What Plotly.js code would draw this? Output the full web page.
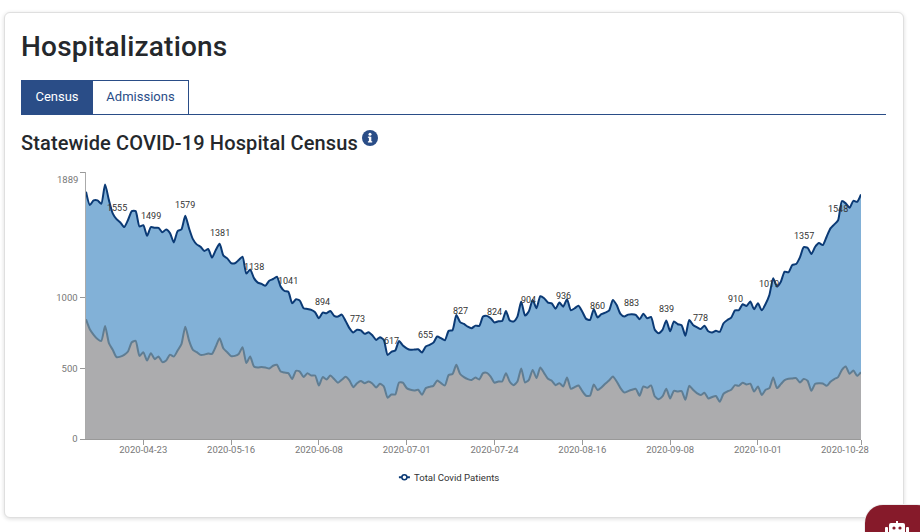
<!DOCTYPE html>
<html>
<head>
<meta charset="utf-8">
<script src="https://cdn.plot.ly/plotly-3.0.1.min.js"></script>
<style>
html,body{margin:0;padding:0;background:#fff;width:920px;height:532px;overflow:hidden;font-family:Roboto,sans-serif;}
#card{position:absolute;left:4px;top:12px;width:898px;height:504px;border:1px solid #dfdfdf;border-radius:6px;box-shadow:0 1px 4px rgba(0,0,0,.14);background:#fff;}
#h1{position:absolute;left:21px;top:29px;font-size:28px;font-weight:500;line-height:36px;color:#25282c;letter-spacing:.2px;}
#tabs{position:absolute;left:21px;top:80px;height:34px;display:flex;}
.tab{box-sizing:border-box;height:35px;line-height:32px;font-size:13px;text-align:center;border:1px solid #2a4d87;}
#t1{width:72px;background:#2a4d87;color:#fff;}
#t2{width:96px;margin-left:0;border-left:none;background:#fff;color:#2a4d87;}
#rule{position:absolute;left:21px;top:114px;width:865px;height:1px;background:#2a4d87;}
#h2{position:absolute;left:21px;top:130px;font-size:20px;font-weight:500;line-height:26px;color:#25282c;letter-spacing:.12px;}
#info{position:absolute;left:362px;top:130px;width:16px;height:16px;}
#chart{position:absolute;left:0;top:0;width:920px;height:532px;}
#bot{position:absolute;left:865px;top:505px;width:70px;height:50px;background:#861a2a;border-radius:18px;box-shadow:0 0 0 1px #eee;}
#botsvg{position:absolute;left:885px;top:521px;width:24px;height:14px;}
</style>
</head>
<body>
<div id="card"></div>
<div id="h1">Hospitalizations</div>
<div id="tabs"><div class="tab" id="t1">Census</div><div class="tab" id="t2">Admissions</div></div>
<div id="rule"></div>
<div id="h2">Statewide COVID-19 Hospital Census</div>
<svg id="info" viewBox="0 0 16 16"><circle cx="8" cy="8" r="8" fill="#2a4d87"/><rect x="6.9" y="6.8" width="2.4" height="5.2" fill="#fff"/><rect x="5.9" y="11.2" width="4.3" height="1.3" fill="#fff"/><rect x="5.9" y="6.6" width="2.5" height="1.2" fill="#fff"/><circle cx="8" cy="4.2" r="1.5" fill="#fff"/></svg>
<div id="chart"></div>
<div id="bot"></div>
<svg id="botsvg" viewBox="0 0 24 14"><rect x="11" y="0" width="2" height="3" fill="#fff"/><rect x="4" y="2" width="16" height="12" rx="2" fill="#fff"/><rect x="0" y="6" width="3" height="8" rx="1" fill="#fff"/><rect x="21" y="6" width="3" height="8" rx="1" fill="#fff"/><circle cx="9" cy="7" r="1.6" fill="#861a2a"/><circle cx="15" cy="7" r="1.6" fill="#861a2a"/></svg>
<script>
var startDate = "2020-04-08";
var totalCovid = [1749,1655,1688,1688,1664,1801,1690,1596,1555,1532,1499,1549,1612,1612,1504,1513,1438,1499,1494,1494,1462,1483,1457,1391,1471,1483,1579,1490,1414,1377,1360,1330,1344,1283,1337,1381,1297,1278,1245,1243,1266,1290,1170,1200,1138,1106,1097,1085,1120,1132,1148,1078,1047,1041,960,989,979,925,920,913,897,854,894,890,906,871,866,880,835,784,753,773,768,744,755,734,701,720,701,595,617,626,694,661,642,631,633,635,612,655,666,682,725,713,699,765,770,878,827,814,795,784,802,800,866,871,854,824,833,835,906,838,831,866,972,873,904,984,925,1010,996,965,960,922,965,936,989,911,925,943,901,850,842,918,860,883,894,908,984,948,885,866,880,883,878,847,887,854,864,772,749,772,839,762,831,812,805,730,842,807,791,778,802,762,753,765,758,819,842,859,910,911,953,941,972,918,960,911,955,1019,1137,1078,1113,1184,1179,1231,1238,1285,1357,1353,1309,1360,1386,1372,1431,1490,1518,1548,1683,1667,1636,1685,1678,1730];
var secondSeries = [847,777,737,708,694,800,678,631,579,583,595,619,685,694,588,614,555,607,565,583,544,555,597,583,626,671,795,696,631,614,595,597,605,602,654,713,640,614,586,588,602,650,537,583,513,506,510,506,499,518,525,477,470,466,424,482,477,438,466,449,449,379,438,421,449,424,398,419,440,414,367,395,410,395,407,393,364,391,372,292,315,315,400,398,360,348,343,348,313,360,369,376,414,395,379,452,459,525,460,438,424,417,435,421,466,468,442,398,407,407,466,405,381,407,499,400,419,489,431,506,466,426,412,381,395,372,435,355,367,379,339,306,306,386,346,364,391,414,442,407,360,329,339,348,355,306,372,362,379,301,282,301,355,287,341,336,339,278,376,348,325,311,327,287,297,304,263,320,336,348,381,376,398,386,391,336,372,311,348,360,435,360,388,417,426,428,431,400,424,412,341,391,395,393,376,405,424,438,489,513,461,485,447,473];
var yTickVals = [0,500,1000,1889];
var yTickText = ["0","500","1000",""];
var xTickVals = ["2020-04-23","2020-05-16","2020-06-08","2020-07-01","2020-07-24","2020-08-16","2020-09-08","2020-10-01","2020-10-28"];
var xTickText = ["2020-04-23","2020-05-16","2020-06-08","2020-07-01","2020-07-24","2020-08-16","2020-09-08","2020-10-01",""];
var legendName = "Total Covid Patients";

function dayStr(i){var d=new Date(Date.parse(startDate+"T00:00:00Z")+i*864e5);return d.toISOString().slice(0,10);}
var dates = totalCovid.map(function(_,i){return dayStr(i);});

var annos = [
 {xref:"paper",yref:"y",x:0,y:1889,text:"1889",showarrow:false,xanchor:"right",xshift:-6,yshift:-7,font:{size:9.5,color:"#777"}},
 {xref:"paper",yref:"paper",x:1,y:0,text:xTickVals[xTickVals.length-1],showarrow:false,xanchor:"right",yanchor:"top",xshift:10,yshift:-3,font:{size:9.5,color:"#777"}}
];
totalCovid.forEach(function(v,i){
  if(i%9===8){annos.push({x:dates[i],y:v,xref:"x",yref:"y",text:String(v),showarrow:false,yshift:11,font:{size:9,color:"#333"}});}
});

var traces = [
 {x:dates,y:totalCovid,type:"scatter",mode:"lines",
  line:{color:"#0b3a75",width:2,shape:"spline",smoothing:0.6},fill:"tozeroy",fillcolor:"#82b1d7",showlegend:false,hoverinfo:"x+y"},
 {x:dates,y:secondSeries,type:"scatter",mode:"lines",
  line:{color:"#5f7d93",width:2,shape:"spline",smoothing:0.6},fill:"tozeroy",fillcolor:"#acacae",showlegend:false,hoverinfo:"x+y"},
 {x:[null],y:[null],type:"scatter",mode:"lines+markers",name:legendName,
  line:{color:"#0b3a75",width:2},marker:{symbol:"circle",size:5,color:"#fff",line:{color:"#0b3a75",width:1.5}}}
];
var layout = {
 width:920,height:532,paper_bgcolor:"rgba(0,0,0,0)",plot_bgcolor:"rgba(0,0,0,0)",
 margin:{l:86,r:59,t:172,b:93,pad:0},
 font:{family:"Roboto, sans-serif",size:9.5,color:"#777"},
 xaxis:{type:"date",range:[dates[0],dates[dates.length-1]],tickmode:"array",tickvals:xTickVals,ticktext:xTickText,
  ticks:"outside",ticklen:5,tickcolor:"#999",tickwidth:1,showgrid:false,zeroline:false,showline:true,linecolor:"#999",linewidth:1,
  ticklabelstandoff:-3,tickfont:{size:9.5,color:"#777"}},
 yaxis:{range:[0,1889],tickmode:"array",tickvals:yTickVals,ticktext:yTickText,ticks:"outside",ticklen:5,tickcolor:"#999",tickwidth:1,
  showgrid:false,zeroline:false,showline:true,linecolor:"#aaa",linewidth:1.5,tickfont:{size:9.5,color:"#777"}},
 annotations:annos,
 showlegend:true,
 legend:{orientation:"h",x:0.456,xanchor:"center",y:-0.089,yanchor:"top",font:{size:9.6,color:"#333"},bgcolor:"rgba(0,0,0,0)"}
};
Plotly.newPlot("chart",traces,layout,{displayModeBar:false,staticPlot:true}).then(function(){
  var root=document.getElementById("chart");
  root.querySelectorAll(".legend .legendlines path").forEach(function(p){p.setAttribute("d","M25,0h11");});
  root.querySelectorAll(".legend .legendpoints path").forEach(function(p){p.setAttribute("transform","translate(30.5,0)");});
});
</script>
</body>
</html>
